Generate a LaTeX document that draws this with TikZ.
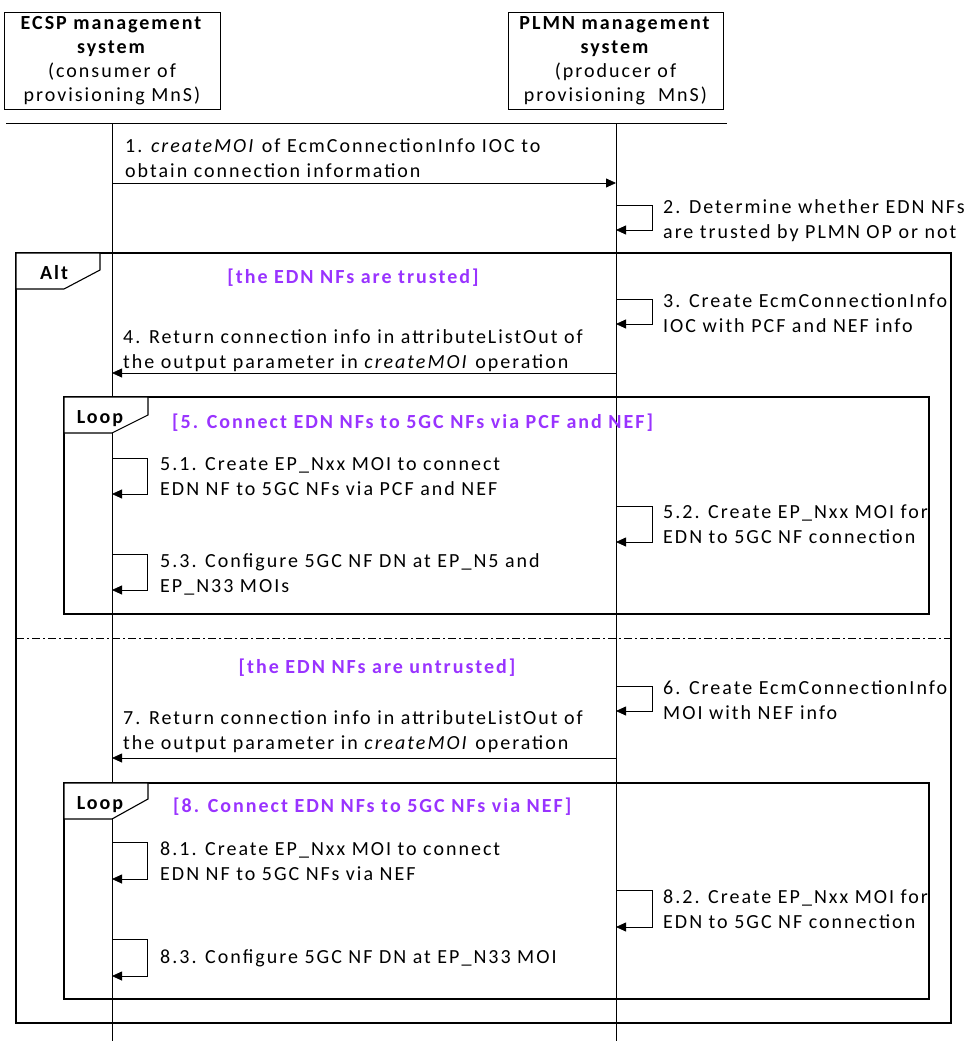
\documentclass[tikz,border=0pt]{standalone}
\usepackage{fontspec}
\setmainfont{Carlito}[LetterSpace=10]
\usetikzlibrary{arrows.meta,calc}
\definecolor{guard}{RGB}{153,51,255}
\begin{document}
\begin{tikzpicture}[x=1pt,y=-1pt,
 line/.style={draw=black, line width=0.8pt},
 msg/.style={line width=0.8pt, -{Triangle[length=10pt,width=9pt]}},
 frame/.style={draw=black, line width=1.3pt},
 tab/.style={draw=black, line width=1.1pt, fill=white},
 txt/.style={anchor=base west, inner sep=0pt, align=left, font=\fontsize{20}{25}\selectfont},
 guardtxt/.style={inner sep=0pt, font=\fontsize{20}{25}\selectfont\bfseries, text=guard},
 tabtxt/.style={anchor=base, inner sep=0pt, font=\fontsize{20}{25}\selectfont\bfseries},
 head/.style={draw, line width=0.8pt, minimum width=216pt, minimum height=97pt, align=center, font=\fontsize{20}{24}\selectfont, inner sep=0pt},
]
\useasboundingbox (0,0) rectangle (967,1041);
% headers
\node[head] (ecsp) at (112,60.5) {\textbf{ECSP management}\\\textbf{system}\\(consumer of\\provisioning MnS)};
\node[head, minimum width=215pt] (plmn) at (615.5,60.5) {\textbf{PLMN management}\\\textbf{system}\\(producer of\\provisioning\ \ MnS)};
\coordinate (hl) at (6,123);
\coordinate (hr) at (727,123);
\draw[line] (hl) -- (hr);
\coordinate (E) at (112,123);
\coordinate (P) at (616,123);
\coordinate (Eb) at (112,1041);
\coordinate (Pb) at (616,1041);
\draw[line] (E) -- (Eb);
\draw[line] (P) -- (Pb);

% message 1
\coordinate (m1a) at (112,183);
\coordinate (m1b) at (616,183);
\draw[msg] (m1a) -- (m1b);
\node[txt] (t1) at (125,177) {1. \textit{createMOI} of EcmConnectionInfo IOC to\\obtain connection information};

% self 2
\coordinate (s2) at (616,205);
\draw[msg] (s2) -- ++(36,0) -- ++(0,25) -- ++(-36,0);
\node[txt] (t2) at (663,238) {2. Determine whether EDN NFs\\are trusted by PLMN OP or not};

% Alt frame
\draw[frame] (16,253) rectangle (951,1023);
\draw[tab] (16,253) -- (100,253) -- (100,270) -- (64,289) -- (16,289) -- cycle;
\node[tabtxt] (alt) at (54,279) {Alt};
\node[guardtxt, anchor=base] (g1) at (353,283) {[the EDN NFs are trusted]};

% self 3
\coordinate (s3) at (616,299);
\draw[msg] (s3) -- ++(36,0) -- ++(0,25) -- ++(-36,0);
\node[txt] (t3) at (663,332) {3. Create EcmConnectionInfo\\IOC with PCF and NEF info};

% message 4
\coordinate (m4a) at (616,373);
\coordinate (m4b) at (112,373);
\draw[msg] (m4a) -- (m4b);
\node[txt] (t4) at (123,368) {4. Return connection info in attributeListOut of\\the output parameter in \textit{createMOI} operation};

% Loop 1
\draw[frame] (64,397) rectangle (929,614);
\draw[tab] (64,397) -- (148,397) -- (148,415) -- (112,433) -- (64,433) -- cycle;
\node[tabtxt] (l1) at (100,423) {Loop};
\node[guardtxt, anchor=base west] (g2) at (172,428) {[5. Connect EDN NFs to 5GC NFs via PCF and NEF]};

\coordinate (s51) at (112,458);
\draw[msg] (s51) -- ++(35,0) -- ++(0,36) -- ++(-35,0);
\node[txt] (t51) at (160,495) {5.1. Create EP\_Nxx MOI to connect\\EDN NF to 5GC NFs via PCF and NEF};

\coordinate (s52) at (616,506);
\draw[msg] (s52) -- ++(36,0) -- ++(0,36) -- ++(-36,0);
\node[txt] (t52) at (663,543) {5.2. Create EP\_Nxx MOI for\\EDN to 5GC NF connection};

\coordinate (s53) at (112,554);
\draw[msg] (s53) -- ++(35,0) -- ++(0,36) -- ++(-35,0);
\node[txt] (t53) at (160,592) {5.3. Configure 5GC NF DN at EP\_N5 and\\EP\_N33 MOIs};

% separator
\coordinate (dl) at (16,638);
\coordinate (dr) at (951,638);
\draw[line, dash pattern=on 8pt off 3pt on 2pt off 3pt] (dl) -- (dr);

\node[guardtxt, anchor=base] (g3) at (377,673) {[the EDN NFs are untrusted]};

\coordinate (s6) at (616,686);
\draw[msg] (s6) -- ++(36,0) -- ++(0,25) -- ++(-36,0);
\node[txt] (t6) at (663,719) {6. Create EcmConnectionInfo\\MOI with NEF info};

\coordinate (m7a) at (616,758);
\coordinate (m7b) at (112,758);
\draw[msg] (m7a) -- (m7b);
\node[txt] (t7) at (123,749) {7. Return connection info in attributeListOut of\\the output parameter in \textit{createMOI} operation};

% Loop 2
\draw[frame] (64,783) rectangle (929,999);
\draw[tab] (64,783) -- (148,783) -- (148,799) -- (112,819) -- (64,819) -- cycle;
\node[tabtxt] (l2) at (100,809) {Loop};
\node[guardtxt, anchor=base west] (g4) at (173,812) {[8. Connect EDN NFs to 5GC NFs via NEF]};

\coordinate (s81) at (112,842);
\draw[msg] (s81) -- ++(35,0) -- ++(0,37) -- ++(-35,0);
\node[txt] (t81) at (160,880) {8.1. Create EP\_Nxx MOI to connect\\EDN NF to 5GC NFs via NEF};

\coordinate (s82) at (616,890);
\draw[msg] (s82) -- ++(36,0) -- ++(0,37) -- ++(-36,0);
\node[txt] (t82) at (663,928) {8.2. Create EP\_Nxx MOI for\\EDN to 5GC NF connection};

\coordinate (s83) at (112,939);
\draw[msg] (s83) -- ++(35,0) -- ++(0,37) -- ++(-35,0);
\node[txt] (t83) at (160,963) {8.3. Configure 5GC NF DN at EP\_N33 MOI};
\end{tikzpicture}
\end{document}
